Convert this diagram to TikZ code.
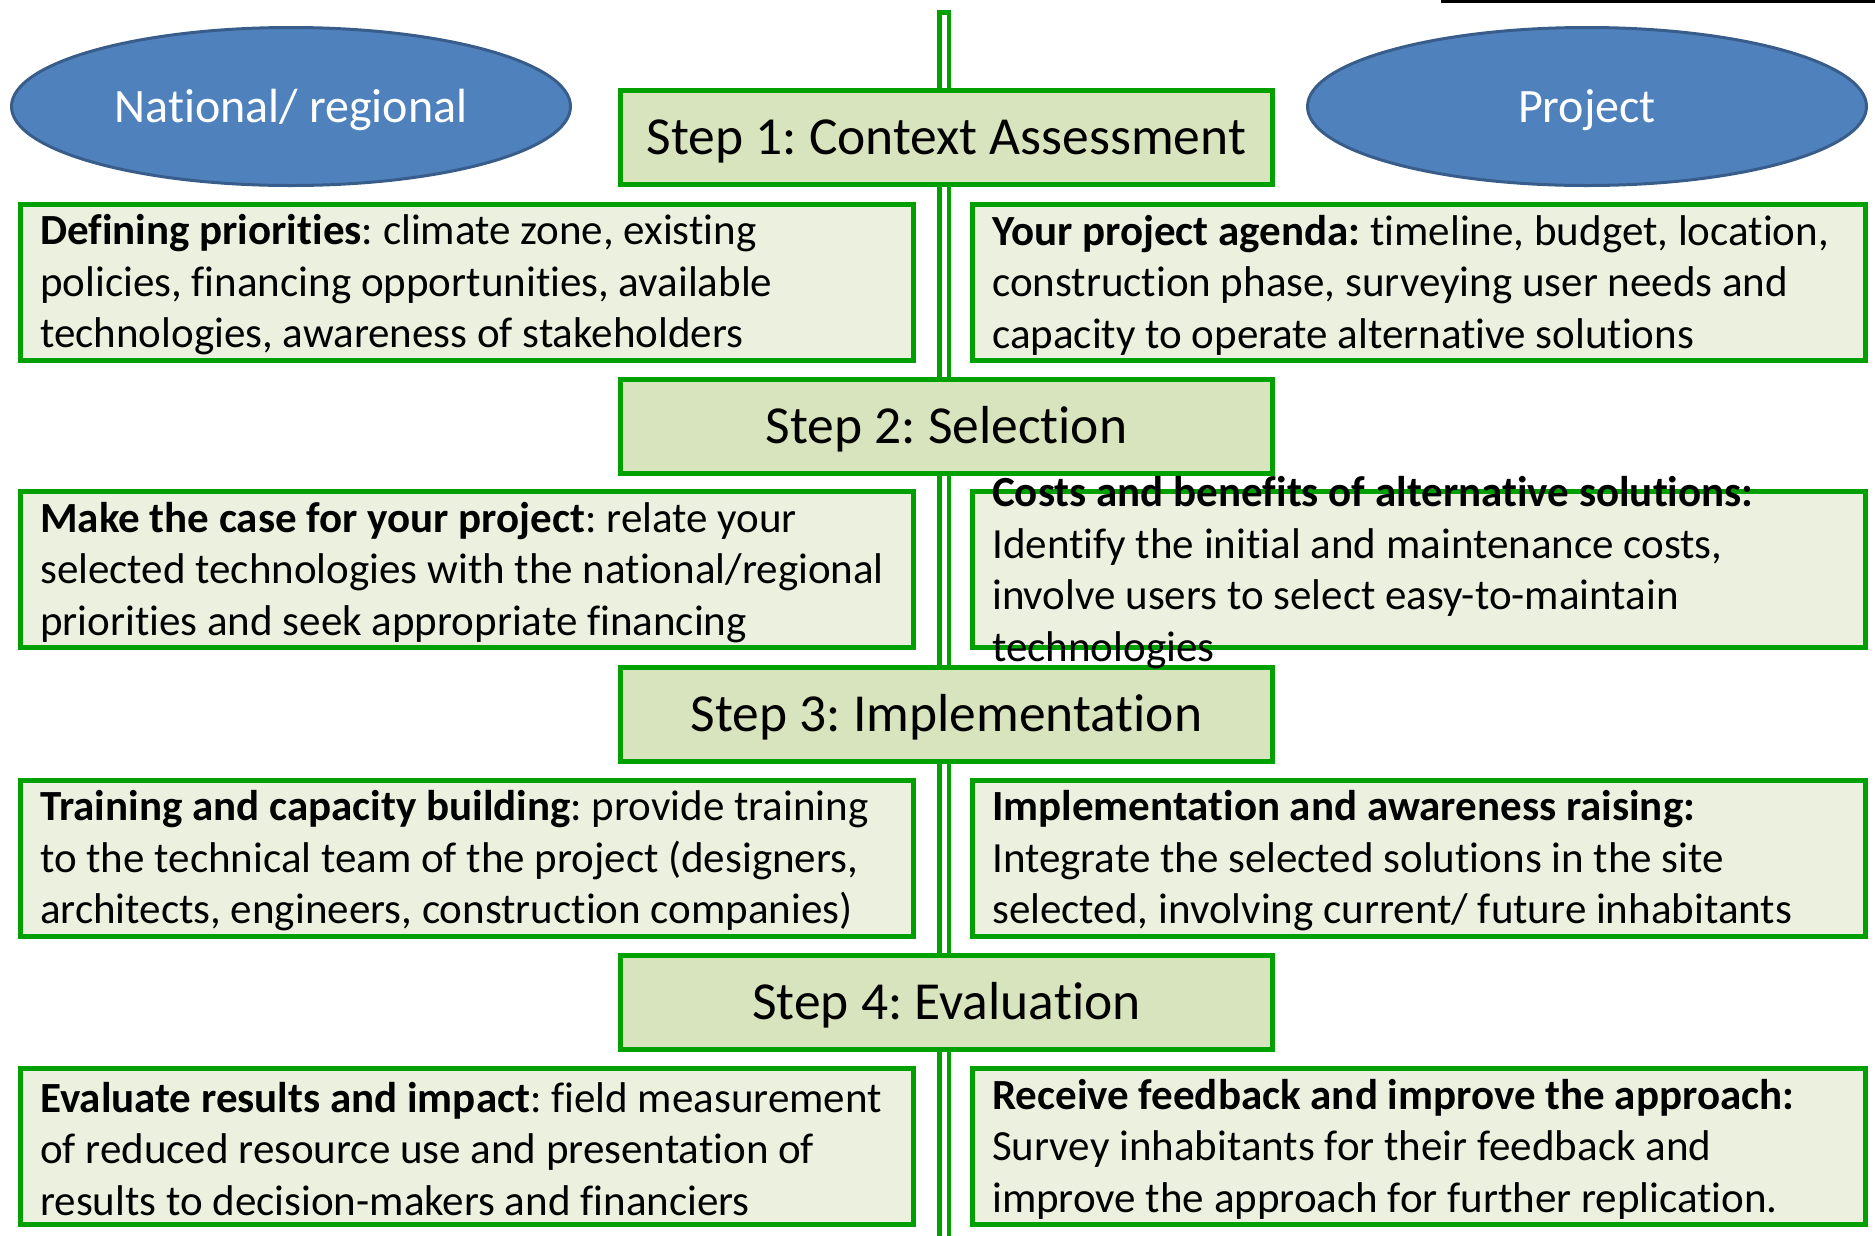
\documentclass[tikz,border=0pt]{standalone}
\usepackage{fontspec}
\setmainfont{Carlito}[RawFeature={-liga}]
\frenchspacing
\usetikzlibrary{shapes.geometric}
\definecolor{gborder}{RGB}{0,160,0}
\definecolor{stepfill}{RGB}{215,228,189}
\definecolor{rowfill}{RGB}{235,241,222}
\definecolor{ellfill}{RGB}{79,129,189}
\definecolor{ellborder}{RGB}{56,93,138}
\begin{document}
\begin{tikzpicture}[x=1pt,y=-1pt,
  stepbox/.style={draw=gborder, fill=stepfill, line width=5pt, minimum width=652pt, minimum height=94pt, inner sep=0pt, text height=34.5pt, text depth=0pt, font=\fontsize{53.5}{64}\selectfont},
  rowbox/.style={draw=gborder, fill=rowfill, line width=5pt, minimum width=893pt, minimum height=156pt, inner sep=0pt},
  rowtext/.style={anchor=west, align=left, inner sep=0pt, xshift=22pt, yshift=-3pt, font=\fontsize{43}{51.5}\selectfont},
  ellnode/.style={ellipse, draw=ellborder, fill=ellfill, line width=3pt, minimum width=559pt, minimum height=158pt, inner sep=0pt, text=white, text height=31pt, text depth=0pt, font=\fontsize{48}{58}\selectfont},
  spine/.style={draw=gborder, line width=14pt},
  spinein/.style={draw=white, line width=5pt}
]
\useasboundingbox (0,0) rectangle (1875,1235);
% top-right black rule
\coordinate (bl1) at (1441,1.5);
\coordinate (bl2) at (1875,1.5);
\draw[line width=3pt] (bl1) -- (bl2);
% central double line
\coordinate (vtop) at (944,10);
\coordinate (vtopin) at (944,14.5);
\coordinate (vbot) at (944,1245);
\draw[spine] (vtop) -- (vbot);
\draw[spinein] (vtopin) -- (vbot);
% ellipses
\node[ellnode] (nat) at (291,106.5) {National/ regional};
\node[ellnode] (proj) at (1587,106.5) {Project};
% steps
\node[stepbox] (s1) at (946.5,137.5) {Step 1: Context Assessment};
\node[stepbox] (s2) at (946.5,426) {Step 2: Selection};
\node[stepbox] (s3) at (946.5,714) {Step 3: Implementation};
\node[stepbox] (s4) at (946.5,1002) {Step 4: Evaluation};
% row boxes
\node[rowbox] (l1) at (467,282) {};
\node[rowbox] (r1) at (1419,282) {};
\node[rowbox] (l2) at (467,569.5) {};
\node[rowbox] (r2) at (1419,569.5) {};
\node[rowbox] (l3) at (467,858) {};
\node[rowbox] (r3) at (1419,858) {};
\node[rowbox] (l4) at (467,1146) {};
\node[rowbox] (r4) at (1419,1146) {};
% texts
\node[rowtext] (tl1) at (l1.west) {\textbf{Defining priorities}: climate zone, existing\\policies, financing opportunities, available\\technologies, awareness of stakeholders};
\node[rowtext] (tr1) at (r1.west) {\textbf{Your project agenda:} timeline, budget, location,\\construction phase, surveying user needs and\\capacity to operate alternative solutions};
\node[rowtext] (tl2) at (l2.west) {\textbf{Make the case for your project}: relate your\\selected technologies with the national/regional\\priorities and seek appropriate financing};
\node[rowtext] (tr2) at (r2.west) {\textbf{Costs and benefits of alternative solutions:}\\Identify the initial and maintenance costs,\\involve users to select easy-to-maintain\\technologies};
\node[rowtext] (tl3) at (l3.west) {\textbf{Training and capacity building}: provide training\\to the technical team of the project (designers,\\architects, engineers, construction companies)};
\node[rowtext] (tr3) at (r3.west) {\textbf{Implementation and awareness raising:}\\Integrate the selected solutions in the site\\selected, involving current/ future inhabitants};
\node[rowtext] (tl4) at (l4.west) {\textbf{Evaluate results and impact}: field measurement\\of reduced resource use and presentation of\\results to decision-makers and financiers};
\node[rowtext] (tr4) at (r4.west) {\textbf{Receive feedback and improve the approach:}\\Survey inhabitants for their feedback and\\improve the approach for further replication.};
\end{tikzpicture}
\end{document}
